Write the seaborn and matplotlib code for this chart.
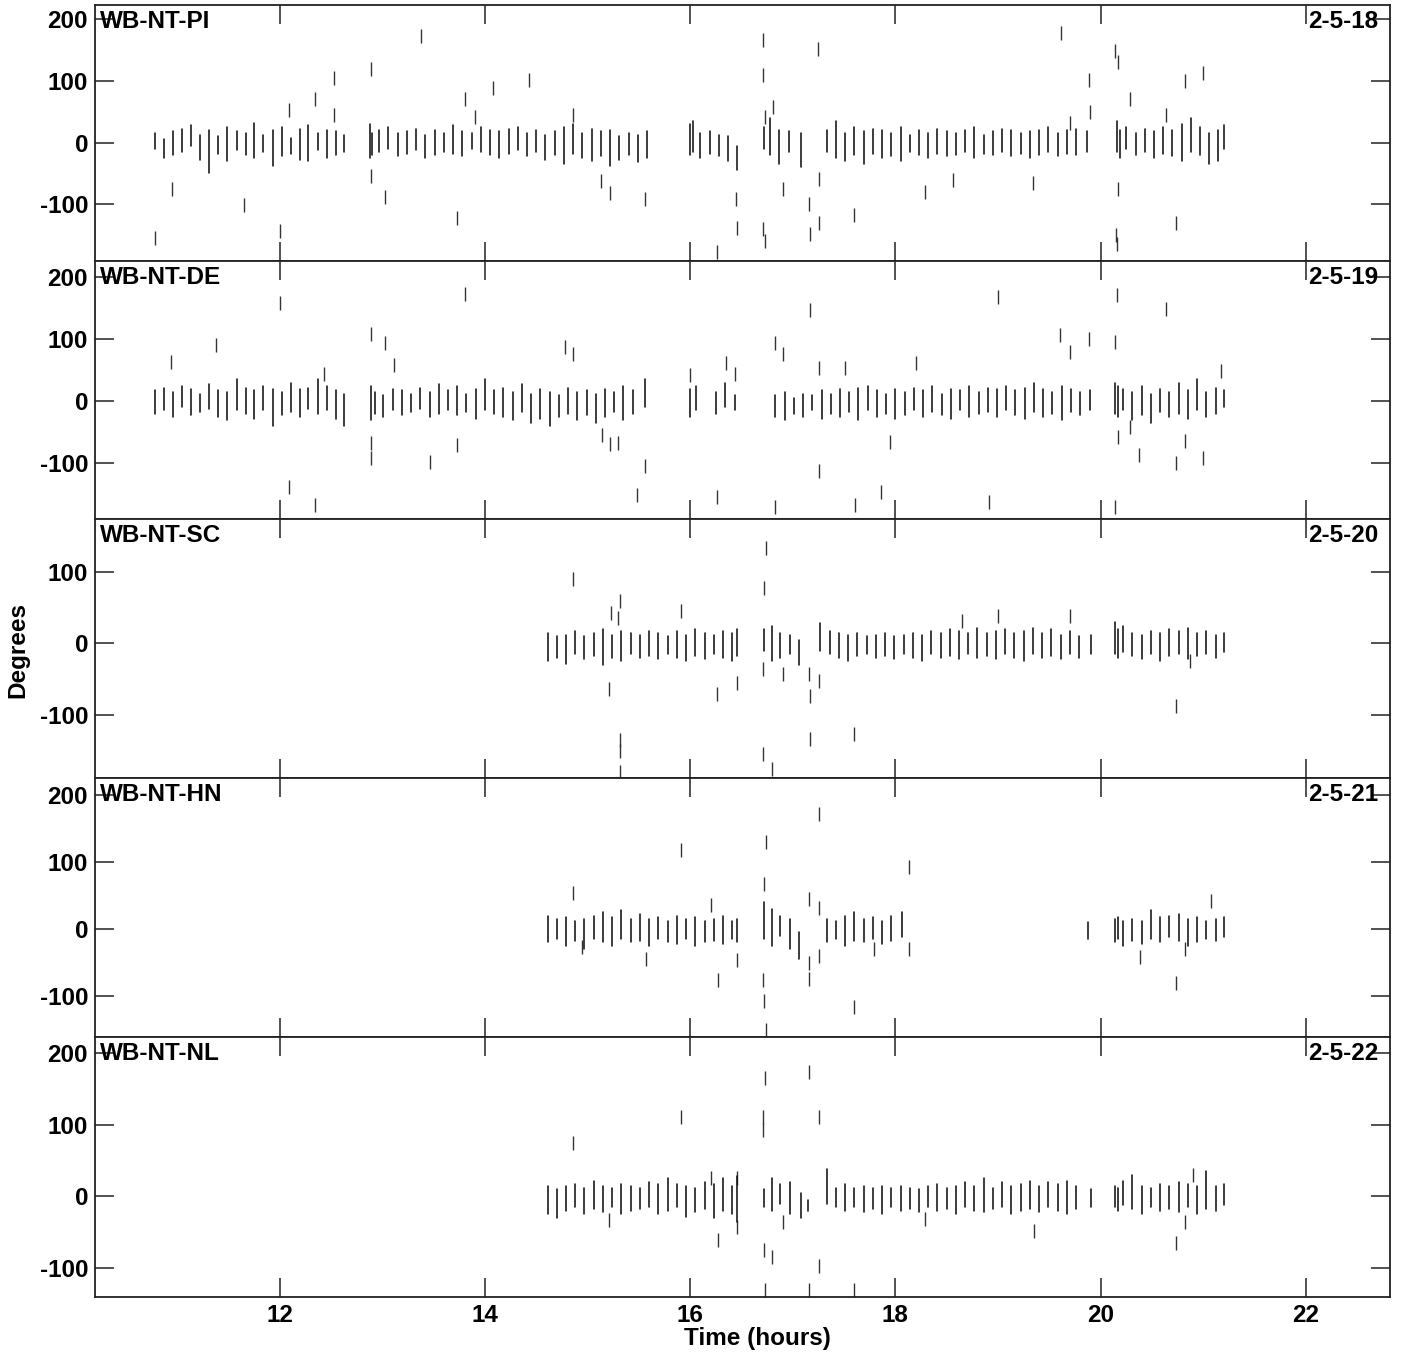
import matplotlib
matplotlib.use("Agg")
import pandas as pd
import matplotlib.pyplot as plt
import seaborn as sns

# %%
# baseline phase per scan: (time in hours, lowest deg, highest deg)
pi_scans = [
    (10.78, -10, 15), (10.87, -25, 5), (10.96, -20, 18), (11.05, -15, 22), (11.14, -5, 28), (11.22, -28, 12),
    (11.31, -50, 20), (11.40, -18, 10), (11.49, -30, 25), (11.58, -12, 18), (11.67, -20, 15), (11.75, -25, 32),
    (11.84, -15, 12), (11.93, -38, 20), (12.02, -22, 25), (12.11, -18, 8), (12.20, -28, 22), (12.28, -30, 28),
    (12.37, -12, 15), (12.46, -25, 20), (12.55, -20, 18), (12.63, -15, 12),
    (12.88, -25, 30), (12.90, -20, 15), (12.97, -15, 20), (13.06, -10, 25), (13.15, -22, 15), (13.24, -18, 18),
    (13.33, -12, 22), (13.42, -25, 12), (13.51, -20, 20), (13.60, -15, 15), (13.69, -18, 28), (13.78, -22, 18),
    (13.87, -10, 15), (13.96, -15, 25), (14.05, -20, 20), (14.14, -25, 18), (14.23, -18, 22), (14.32, -12, 25),
    (14.41, -22, 15), (14.50, -15, 20), (14.59, -28, 12), (14.68, -20, 18), (14.77, -35, 25), (14.86, -18, 30),
    (14.95, -25, 15), (15.04, -30, 22), (15.13, -22, 18), (15.22, -38, 20), (15.31, -28, 10), (15.40, -20, 15),
    (15.49, -32, 12), (15.58, -25, 18),
    (16.00, -20, 30), (16.03, -15, 35), (16.10, -25, 15), (16.19, -18, 18), (16.28, -22, 12), (16.37, -30, 10),
    (16.46, -45, -5),
    (16.72, -10, 25), (16.78, -20, 40), (16.87, -35, 20), (16.96, -15, 18), (17.08, -40, 15),
    (17.33, -15, 20), (17.42, -25, 35), (17.51, -30, 15), (17.60, -20, 25), (17.69, -35, 18), (17.78, -18, 22),
    (17.87, -25, 20), (17.96, -22, 15), (18.05, -30, 25), (18.14, -15, 12), (18.23, -20, 20), (18.32, -25, 15),
    (18.41, -18, 22), (18.50, -22, 18), (18.59, -20, 15), (18.68, -15, 20), (18.77, -25, 25), (18.86, -18, 12),
    (18.95, -20, 18), (19.04, -15, 22), (19.13, -22, 20), (19.22, -18, 15), (19.31, -25, 18), (19.40, -20, 20),
    (19.49, -15, 25), (19.58, -22, 15), (19.67, -18, 20), (19.76, -20, 22), (19.87, -15, 18),
    (20.16, -15, 35), (20.19, -25, 20), (20.25, -10, 25), (20.34, -20, 15), (20.43, -15, 22), (20.52, -25, 18),
    (20.61, -18, 25), (20.70, -22, 20), (20.79, -30, 30), (20.88, -15, 40), (20.97, -20, 25), (21.06, -35, 15),
    (21.14, -30, 20), (21.20, -10, 28),
]
pi_outliers = [
    (10.78, -155), (10.95, -75), (11.65, -102), (12.00, -143), (12.09, 52), (12.34, 70), (12.53, 104),
    (12.53, 44), (12.89, 120), (12.89, -54), (13.03, -89), (13.38, 172), (13.73, -122), (13.81, 71),
    (13.90, 41), (14.08, 89), (14.43, 101), (14.86, 44), (15.13, -62), (15.22, -81), (15.56, -91),
    (16.26, -177), (16.45, -91), (16.46, -138), (16.71, 166), (16.71, 110), (16.73, 42), (16.71, -140),
    (16.73, -160), (16.81, 58), (16.90, -75), (17.25, 152), (17.26, -59), (17.16, -100), (17.26, -130),
    (17.17, -148), (17.60, -118), (18.29, -80), (18.56, -60), (19.34, -65), (19.61, 177), (19.70, 31),
    (19.89, 101), (19.90, 50), (20.14, 148), (20.17, 130), (20.17, -76), (20.15, -150), (20.16, -165),
    (20.29, 71), (20.64, 45), (20.73, -130), (20.82, 99), (21.00, 112),
]

de_scans = [
    (10.78, -20, 18), (10.87, -15, 22), (10.96, -25, 15), (11.05, -10, 25), (11.14, -22, 20), (11.22, -18, 12),
    (11.31, -12, 28), (11.40, -25, 18), (11.49, -30, 15), (11.58, -15, 35), (11.67, -20, 22), (11.75, -28, 18),
    (11.84, -15, 25), (11.93, -40, 20), (12.02, -22, 15), (12.11, -18, 30), (12.20, -25, 20), (12.28, -12, 22),
    (12.37, -20, 35), (12.46, -15, 25), (12.55, -28, 18), (12.63, -40, 12),
    (12.89, -30, 25), (12.93, -20, 15), (13.01, -25, 10), (13.10, -15, 20), (13.19, -22, 18), (13.28, -18, 12),
    (13.37, -12, 22), (13.46, -25, 15), (13.55, -20, 28), (13.64, -15, 18), (13.73, -22, 25), (13.82, -18, 12),
    (13.91, -28, 20), (14.00, -15, 35), (14.09, -20, 18), (14.18, -25, 22), (14.27, -30, 15), (14.36, -18, 28),
    (14.45, -35, 12), (14.54, -28, 20), (14.63, -40, 15), (14.72, -25, 10), (14.81, -20, 22), (14.90, -30, 15),
    (14.99, -22, 18), (15.08, -35, 12), (15.17, -25, 20), (15.26, -18, 15), (15.35, -30, 25), (15.44, -20, 18),
    (15.56, -10, 35),
    (16.00, -25, 20), (16.06, -15, 25), (16.25, -20, 15), (16.34, -10, 30), (16.44, -15, 10),
    (16.83, -25, 10), (16.92, -30, 15), (17.01, -20, 5), (17.10, -25, 12), (17.19, -15, 10), (17.28, -28, 18),
    (17.37, -20, 12), (17.46, -25, 20), (17.55, -18, 15), (17.64, -30, 22), (17.73, -15, 25), (17.82, -25, 18),
    (17.91, -20, 12), (18.00, -28, 20), (18.09, -22, 15), (18.18, -15, 22), (18.27, -25, 18), (18.36, -18, 25),
    (18.45, -22, 12), (18.54, -28, 20), (18.63, -15, 18), (18.72, -25, 25), (18.81, -20, 15), (18.90, -18, 22),
    (18.99, -25, 20), (19.08, -15, 25), (19.17, -22, 18), (19.26, -28, 22), (19.35, -18, 30), (19.44, -25, 20),
    (19.53, -20, 15), (19.62, -30, 25), (19.71, -18, 20), (19.80, -22, 15), (19.90, -15, 18),
    (20.14, -20, 30), (20.17, -25, 25), (20.22, -15, 20), (20.31, -30, 15), (20.40, -22, 25), (20.49, -35, 12),
    (20.58, -18, 20), (20.67, -25, 15), (20.76, -20, 30), (20.85, -28, 18), (20.94, -15, 35), (21.03, -25, 15),
    (21.12, -20, 22), (21.20, -10, 18),
]
de_outliers = [
    (10.94, 63), (11.38, 90), (12.00, 158), (12.09, -139), (12.34, -168), (12.43, 44), (12.89, 108),
    (13.03, 94), (12.89, -68), (12.89, -92), (13.11, 58), (13.46, -98), (13.73, -71), (13.81, 172),
    (14.78, 87), (14.86, 76), (15.14, -55), (15.22, -69), (15.30, -67), (15.56, -105), (15.48, -152),
    (16.00, 42), (16.35, 61), (16.44, 44), (16.26, -155), (16.83, 94), (16.90, 76), (16.83, -170),
    (17.17, 147), (17.26, 53), (17.26, -113), (17.51, 53), (17.61, -168), (17.86, -147), (17.95, -66),
    (18.20, 61), (18.91, -163), (19.00, 168), (19.60, 106), (19.70, 79), (19.89, 100), (20.16, 171),
    (20.14, 95), (20.17, -58), (20.29, -42), (20.14, -170), (20.37, -87), (20.64, 148), (20.73, -99),
    (20.82, -65), (21.00, -92), (21.17, 48),
]

sc_scans = [
    (14.61, -25, 15), (14.70, -20, 10), (14.79, -28, 12), (14.88, -15, 18), (14.97, -22, 10), (15.06, -18, 15),
    (15.15, -30, 20), (15.24, -20, 12), (15.33, -25, 18), (15.42, -15, 15), (15.51, -20, 12), (15.60, -18, 18),
    (15.69, -22, 15), (15.78, -15, 10), (15.87, -20, 18), (15.96, -25, 12), (16.05, -18, 20), (16.14, -22, 15),
    (16.23, -15, 12), (16.32, -20, 18), (16.41, -25, 15), (16.46, -18, 20),
    (16.72, -10, 20), (16.80, -25, 25), (16.88, -20, 15), (16.97, -15, 12), (17.06, -30, 5),
    (17.27, -10, 28), (17.36, -15, 18), (17.45, -20, 15), (17.54, -25, 12), (17.63, -18, 15), (17.72, -15, 10),
    (17.81, -20, 12), (17.90, -18, 15), (17.99, -22, 10), (18.08, -15, 12), (18.17, -20, 15), (18.26, -25, 12),
    (18.35, -15, 18), (18.44, -20, 15), (18.53, -18, 20), (18.62, -22, 18), (18.71, -15, 15), (18.80, -20, 22),
    (18.89, -18, 15), (18.98, -22, 18), (19.07, -15, 20), (19.16, -20, 15), (19.25, -25, 18), (19.34, -15, 22),
    (19.43, -20, 15), (19.52, -18, 20), (19.61, -22, 12), (19.70, -15, 18), (19.79, -20, 10), (19.91, -15, 12),
    (20.14, -15, 30), (20.17, -20, 20), (20.22, -12, 25), (20.31, -18, 15), (20.40, -22, 12), (20.49, -15, 18),
    (20.58, -25, 15), (20.67, -18, 20), (20.76, -15, 18), (20.85, -22, 22), (20.94, -18, 15), (21.03, -15, 18),
    (21.12, -20, 12), (21.20, -12, 15),
]
sc_outliers = [
    (14.86, 90), (15.21, -63), (15.23, 42), (15.32, 60), (15.30, 35), (15.32, -135), (15.32, -150),
    (15.32, -180), (15.91, 46), (16.26, -70), (16.46, -55), (16.74, 134), (16.72, 78), (16.71, -36),
    (16.71, -154), (16.80, -176), (16.90, -42), (17.16, -42), (17.17, -74), (17.17, -134), (17.26, -53),
    (17.60, -127), (18.65, 31), (19.00, 38), (19.70, 38), (20.73, -88), (20.87, -25),
]

hn_scans = [
    (14.61, -20, 20), (14.70, -15, 15), (14.79, -25, 18), (14.88, -18, 12), (14.97, -30, 15), (15.06, -15, 20),
    (15.15, -20, 25), (15.24, -25, 18), (15.33, -15, 28), (15.42, -20, 15), (15.51, -18, 22), (15.60, -25, 15),
    (15.69, -15, 18), (15.78, -20, 12), (15.87, -22, 20), (15.96, -15, 15), (16.05, -25, 18), (16.14, -20, 12),
    (16.23, -18, 15), (16.32, -22, 20), (16.41, -15, 12), (16.46, -20, 15),
    (16.72, -15, 40), (16.80, -25, 30), (16.88, -10, 20), (16.97, -30, 15), (17.06, -45, -5),
    (17.33, -20, 15), (17.42, -15, 12), (17.51, -25, 20), (17.60, -18, 25), (17.69, -20, 15), (17.78, -15, 18),
    (17.87, -22, 12), (17.96, -18, 20), (18.06, -12, 25),
    (19.88, -15, 10),
    (20.14, -20, 15), (20.17, -15, 18), (20.22, -25, 12), (20.31, -18, 15), (20.40, -22, 12), (20.49, -15, 28),
    (20.58, -20, 18), (20.67, -12, 20), (20.76, -18, 22), (20.85, -25, 15), (20.94, -20, 18), (21.03, -15, 12),
    (21.12, -18, 15), (21.20, -12, 18),
]
hn_outliers = [
    (14.86, 54), (14.95, -27), (15.57, -45), (15.91, 118), (16.20, 36), (16.27, -76), (16.46, -46),
    (16.74, 130), (16.72, 67), (16.71, -76), (16.72, -107), (16.74, -150), (17.16, 45), (17.26, 31),
    (17.16, -50), (17.16, -75), (17.26, -40), (17.26, 172), (17.60, -116), (17.79, -30), (18.13, 92),
    (18.13, -30), (20.38, -42), (20.73, -80), (20.82, -30), (21.08, 42),
]

nl_scans = [
    (14.61, -25, 15), (14.70, -30, 10), (14.79, -20, 15), (14.88, -15, 18), (14.97, -25, 12), (15.06, -18, 22),
    (15.15, -22, 15), (15.24, -15, 12), (15.33, -25, 18), (15.42, -20, 15), (15.51, -18, 12), (15.60, -15, 20),
    (15.69, -25, 18), (15.78, -20, 25), (15.87, -15, 18), (15.96, -28, 15), (16.05, -22, 12), (16.14, -18, 20),
    (16.23, -30, 18), (16.32, -20, 25), (16.41, -25, 15), (16.46, -35, 28),
    (16.72, -15, 10), (16.80, -20, 25), (16.88, -10, 18), (16.97, -25, 20), (17.08, -30, 5), (17.15, -20, -5),
    (17.33, -10, 38), (17.42, -15, 12), (17.51, -20, 18), (17.60, -15, 12), (17.69, -22, 15), (17.78, -18, 12),
    (17.87, -25, 15), (17.96, -15, 12), (18.05, -20, 15), (18.14, -18, 12), (18.23, -22, 10), (18.32, -15, 15),
    (18.41, -20, 18), (18.50, -18, 12), (18.59, -25, 15), (18.68, -15, 20), (18.77, -20, 15), (18.86, -22, 25),
    (18.95, -18, 12), (19.04, -15, 20), (19.13, -25, 15), (19.22, -20, 18), (19.31, -18, 22), (19.40, -22, 15),
    (19.49, -15, 20), (19.58, -20, 18), (19.67, -25, 22), (19.76, -18, 15), (19.91, -15, 10),
    (20.14, -15, 15), (20.17, -20, 12), (20.22, -12, 22), (20.31, -18, 30), (20.40, -25, 15), (20.49, -15, 12),
    (20.58, -20, 18), (20.67, -18, 15), (20.76, -22, 20), (20.85, -15, 18), (20.94, -25, 15), (21.03, -18, 35),
    (21.12, -20, 15), (21.20, -12, 18),
]
nl_outliers = [
    (14.86, 75), (15.21, -33), (15.91, 110), (16.20, 25), (16.27, -61), (16.46, 25), (16.46, -42),
    (16.73, 165), (16.71, 92), (16.71, 110), (16.72, -74), (16.80, -85), (16.73, -130), (17.16, 173),
    (17.26, 110), (17.26, -97), (17.16, -130), (17.60, -130), (16.90, -35), (18.29, -31), (19.35, -48),
    (20.73, -65), (20.82, -35), (20.90, 30),
]

baselines = ["WB-NT-PI", "WB-NT-DE", "WB-NT-SC", "WB-NT-HN", "WB-NT-NL"]
dates = ["2-5-18", "2-5-19", "2-5-20", "2-5-21", "2-5-22"]
all_scans = [pi_scans, de_scans, sc_scans, hn_scans, nl_scans]
all_outliers = [pi_outliers, de_outliers, sc_outliers, hn_outliers, nl_outliers]
y_ranges = [(-192, 223), (-190, 226), (-188, 174), (-161, 225), (-140, 222)]
y_ticks = [[-100, 0, 100, 200], [-100, 0, 100, 200], [-100, 0, 100], [-100, 0, 100, 200], [-100, 0, 100, 200]]
x_ticks = [12, 14, 16, 18, 20, 22]

# %%
sns.set_theme(style="white")
plt.rcParams['font.family'] = ['Liberation Sans', 'DejaVu Sans']
plt.rcParams['font.weight'] = 'bold'
plt.rcParams['axes.unicode_minus'] = False
plt.rcParams['text.color'] = 'black'
plt.rcParams['xtick.color'] = 'black'
plt.rcParams['ytick.color'] = 'black'

fig = plt.figure(figsize=(14.04, 13.54), dpi=100)
W, H = 1404, 1354
edges = [5, 261, 519, 778, 1037, 1297]
left, right = 95, 1390

for i in range(5):
    top, bot = edges[i], edges[i + 1]
    ax = fig.add_axes([left / W, 1 - bot / H, (right - left) / W, (bot - top) / H])

    rows = []
    for k, (t, lo, hi) in enumerate(all_scans[i]):
        rows.append((k, t, lo))
        rows.append((k, t, hi))
    df = pd.DataFrame(rows, columns=['scan', 't', 'deg'])
    sns.lineplot(data=df, x='t', y='deg', units='scan', estimator=None, sort=False,
                 color='#111111', lw=1.15, ax=ax)

    out = pd.DataFrame(all_outliers[i], columns=['t', 'deg'])
    sns.scatterplot(data=out, x='t', y='deg', marker='|', s=110, color='#333333',
                    linewidth=1.0, ax=ax)

    ax.set_xlim(10.2, 22.82)
    ax.set_ylim(*y_ranges[i])
    ax.set_xticks(x_ticks)
    ax.set_yticks(y_ticks[i])
    ax.set_xlabel('')
    ax.set_ylabel('')
    ax.tick_params(direction='in', length=14, width=1.1, color='#222222',
                   top=True, right=True, bottom=True, left=True, labelsize=17.5, pad=5)
    if i < 4:
        ax.tick_params(labelbottom=False)
    for sp in ax.spines.values():
        sp.set_linewidth(1.3)
        sp.set_color('#222222')

    ax.text(0.004, 0.935, baselines[i], transform=ax.transAxes, ha='left', va='center',
            fontsize=17.5, fontweight='bold')
    ax.text(0.991, 0.935, dates[i], transform=ax.transAxes, ha='right', va='center',
            fontsize=17.5, fontweight='bold')

fig.text(18 / W, 1 - 650 / H, 'Degrees', rotation=90, ha='center', va='center',
         fontsize=17.5, fontweight='bold')
fig.text(757 / W, 1 - 1338 / H, 'Time (hours)', ha='center', va='center',
         fontsize=17.5, fontweight='bold')

fig.savefig('out.png', dpi=100)
